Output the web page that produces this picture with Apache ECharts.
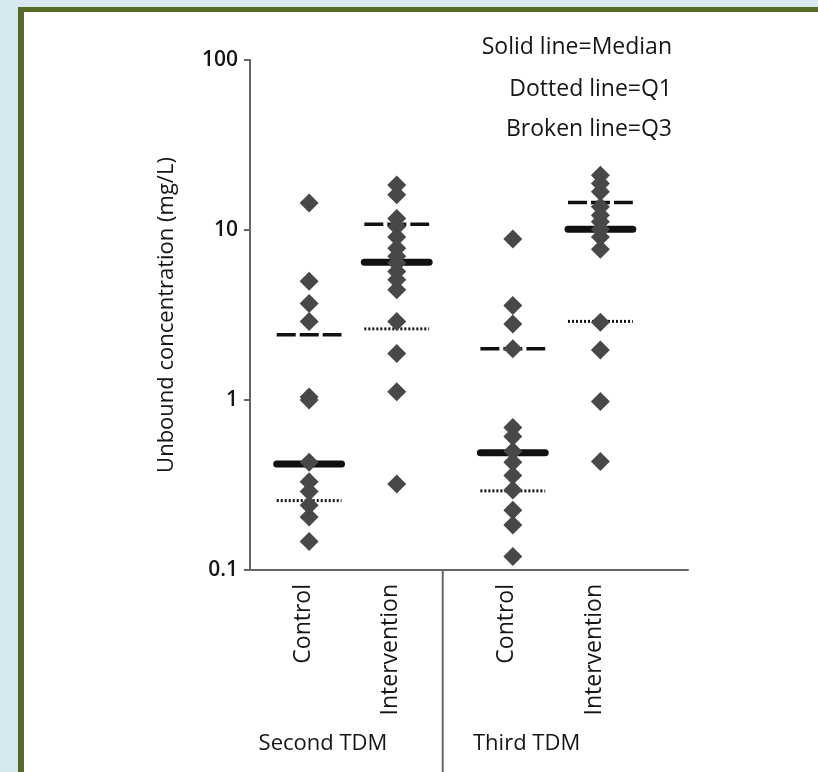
<!DOCTYPE html>
<html><head><meta charset="utf-8">
<script src="https://cdn.jsdelivr.net/npm/echarts@6/dist/echarts.min.js"></script>
<style>
html,body{margin:0;padding:0;width:818px;height:772px;background:#d7e9f0;overflow:hidden;}
#panel{position:absolute;left:18px;top:7px;width:800px;height:765px;background:#fff;border-left:6px solid #566a2c;border-top:5px solid #566a2c;box-sizing:border-box;}
#chart{position:absolute;left:0;top:0;width:818px;height:772px;}
</style></head>
<body><div id="panel"></div><div id="chart"></div>
<script>
var categories = ['Control', 'Intervention', 'Control', 'Intervention'];
var groupLabels = ['Second TDM', 'Third TDM'];
var groupX = [1.35, 3.35, 6.0, 8.0];
var separatorX = 4.4;
var control2 = [14.4, 5.0, 3.7, 2.9, 1.04, 1.0, 0.43, 0.33, 0.29, 0.24, 0.205, 0.147];
var intervention2 = [18.4, 16.1, 11.7, 10.5, 9.1, 7.8, 7.0, 6.4, 5.7, 5.1, 4.45, 2.9, 1.88, 1.12, 0.32];
var control3 = [8.85, 3.6, 2.8, 2.0, 0.69, 0.61, 0.5, 0.43, 0.36, 0.296, 0.225, 0.184, 0.12];
var intervention3 = [21, 18.8, 16.8, 13.7, 12.2, 11.2, 10.1, 9.1, 7.7, 2.87, 1.97, 0.98, 0.435];
var medians = [0.42, 6.45, 0.49, 10.1];
var q1 = [0.256, 2.62, 0.292, 2.9];
var q3 = [2.42, 10.8, 2.0, 14.5];
var yTicks = [0.1, 1, 10, 100];
var legendLines = ['Solid line=Median', 'Dotted line=Q1', 'Broken line=Q3'];

var FONT = '"Open Sans", "Noto Sans", sans-serif';
var W = 500;
var TXT = '#151515';
var groups = [control2, intervention2, control3, intervention3];
var halfW = 0.74;
var series = [];
groups.forEach(function (g, i) {
  series.push({
    type: 'scatter', symbol: 'diamond', symbolSize: 19, z: 5,
    itemStyle: { color: '#484848', opacity: 1 },
    data: g.map(function (v) { return [groupX[i], v]; })
  });
});
function statLine(vals, style, width, dash) {
  vals.forEach(function (v, i) {
    series.push({
      type: 'line', z: 2, symbol: 'none', silent: true,
      lineStyle: { color: '#111', width: width, type: dash, cap: style },
      data: [[groupX[i] - halfW, v], [groupX[i] + halfW, v]]
    });
  });
}
statLine(medians, 'round', 7, 'solid');
statLine(q3, 'butt', 3.5, [19, 4]);
statLine(q1, 'butt', 3, [2, 2]);

var chart = echarts.init(document.getElementById('chart'));
chart.setOption({
  backgroundColor: 'transparent',
  animation: false,
  grid: { left: 250, top: 60, right: 130, bottom: 202, containLabel: false },
  xAxis: {
    type: 'value', min: 0, max: 10,
    axisLine: { show: true, onZero: false, lineStyle: { color: '#666', width: 2 } },
    axisTick: { show: false }, axisLabel: { show: false }, splitLine: { show: false }
  },
  yAxis: {
    type: 'log', logBase: 10, min: 0.1, max: 100,
    name: 'Unbound concentration (mg/L)', nameLocation: 'middle', nameGap: 72,
    nameTextStyle: { fontFamily: FONT, fontSize: 22, fontWeight: W, color: TXT },
    axisLine: { show: true, lineStyle: { color: '#666', width: 2 } },
    axisTick: { show: true, length: 6, lineStyle: { color: '#666', width: 2 } },
    axisLabel: { fontFamily: FONT, fontSize: 21, fontWeight: 600, color: TXT, margin: 12,
      formatter: function (v) { return String(+v.toPrecision(3)); } },
    splitLine: { show: false }, minorTick: { show: false }
  },
  series: series
});

var g = [];
var axisY = chart.convertToPixel({ gridIndex: 0 }, [0, 0.1])[1];
categories.forEach(function (c, i) {
  var p = chart.convertToPixel({ gridIndex: 0 }, [groupX[i], 0.1]);
  g.push({ type: 'text', x: p[0] - 6, y: axisY + 14, rotation: Math.PI / 2,
    style: { text: c, align: 'right', verticalAlign: 'middle', font: W + ' 23px ' + FONT, fill: TXT } });
});
[[0, 1], [2, 3]].forEach(function (pair, k) {
  var a = chart.convertToPixel({ gridIndex: 0 }, [groupX[pair[0]], 0.1])[0];
  var b = chart.convertToPixel({ gridIndex: 0 }, [groupX[pair[1]], 0.1])[0];
  g.push({ type: 'text', x: (a + b) / 2 - 30, y: 744,
    style: { text: groupLabels[k], align: 'center', verticalAlign: 'middle', font: W + ' 22px ' + FONT, fill: TXT } });
});
var sx = chart.convertToPixel({ gridIndex: 0 }, [separatorX, 0.1])[0];
g.push({ type: 'line', shape: { x1: sx, y1: axisY + 1, x2: sx, y2: 772 }, style: { stroke: '#666', lineWidth: 2 } });
legendLines.forEach(function (t, i) {
  g.push({ type: 'text', x: 672, y: [47, 89, 129][i],
    style: { text: t, align: 'right', verticalAlign: 'middle', font: W + ' 23px ' + FONT, fill: TXT } });
});
chart.setOption({ graphic: g });
</script></body></html>
